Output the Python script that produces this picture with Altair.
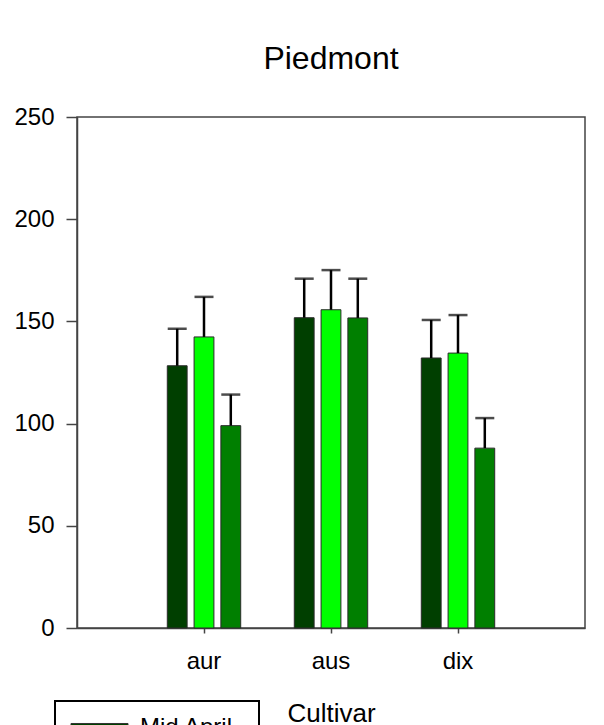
import altair as alt
import pandas as pd

# ---- data ----
cultivars = ["aur", "aus", "dix"]
dates = ["Mid April", "Early May", "Mid May"]
mean_mid_april = [128.3, 151.8, 132.1]
mean_early_may = [142.4, 155.7, 134.5]
mean_mid_may = [99.0, 151.7, 88.0]
se_mid_april = [18.1, 19.1, 18.6]
se_early_may = [19.6, 19.4, 18.6]
se_mid_may = [15.2, 19.2, 14.7]
y_ticks = [0, 50, 100, 150, 200, 250]
colors = ["#003f00", "#00ff00", "#007f00"]

rows = []
for d, means, ses in zip(dates,
                         [mean_mid_april, mean_early_may, mean_mid_may],
                         [se_mid_april, se_early_may, se_mid_may]):
    for c, m, s in zip(cultivars, means, ses):
        rows.append({"Cultivar": c, "Date": d, "mean": m, "upper": m + s})
df = pd.DataFrame(rows)

FONT = "Liberation Sans"

x_enc = alt.X(
    "Cultivar:N",
    sort=cultivars,
    scale=alt.Scale(paddingInner=0, paddingOuter=0.5),
    axis=alt.Axis(
        title="Cultivar",
        labelAngle=0,
        labelFontSize=24,
        labelFont=FONT,
        labelColor="black",
        labelPadding=16,
        tickSize=5,
        titleFontSize=26,
        titleFont=FONT,
        titleFontWeight="normal",
        titleColor="black",
        titleY=72,
        titleBaseline="top",
    ),
)
xoff_enc = alt.XOffset(
    "Date:N", sort=dates, scale=alt.Scale(paddingInner=0.26, paddingOuter=1)
)
y_scale = alt.Scale(domain=[0, 250], nice=False)
y_axis = alt.Axis(
    title=None,
    values=y_ticks,
    grid=False,
    tickSize=11,
    labelPadding=12,
    labelFontSize=24,
    labelFont=FONT,
    labelColor="black",
)

bars = alt.Chart(df).mark_bar(stroke="#2a2a2a", strokeWidth=1).encode(
    x=x_enc,
    xOffset=xoff_enc,
    y=alt.Y("mean:Q", scale=y_scale, axis=y_axis),
    color=alt.Color(
        "Date:N",
        sort=dates,
        scale=alt.Scale(domain=dates, range=colors),
        legend=alt.Legend(
            orient="none",
            legendX=-22,
            legendY=584,
            title=None,
            padding=12,
            strokeColor="black",
            fillColor="white",
            symbolType="M-2.036,-0.286H2.036V0.857H-2.036Z",
            symbolSize=784,
            symbolStrokeColor="#333333",
            symbolStrokeWidth=1,
            symbolOpacity=1,
            symbolOffset=18,
            labelOffset=26,
            labelFontSize=24,
            labelFont=FONT,
            labelColor="black",
            direction="vertical",
        ),
    ),
)

stems = alt.Chart(df).mark_rule(color="black", strokeWidth=2.5).encode(
    x=x_enc,
    xOffset=xoff_enc,
    y=alt.Y("mean:Q", scale=y_scale, axis=y_axis),
    y2="upper:Q",
)

caps = alt.Chart(df).mark_tick(color="black", thickness=2.5, size=19).encode(
    x=x_enc,
    xOffset=xoff_enc,
    y=alt.Y("upper:Q", scale=y_scale, axis=y_axis),
)

chart = (
    alt.layer(bars, stems, caps)
    .properties(
        width=508,
        height=511,
        title=alt.TitleParams(
            "Piedmont",
            fontSize=32,
            font=FONT,
            fontWeight="normal",
            color="black",
            offset=29,
            anchor="middle",
        ),
        padding={"left": 5, "top": 35, "right": 5, "bottom": 5},
    )
    .configure_view(stroke="#444444", strokeWidth=1.5)
    .configure_axis(
        domainColor="#444444",
        domainWidth=1.5,
        tickColor="#444444",
        tickWidth=1.5,
    )
    .configure_legend(strokeWidth=2)
)

chart.save("out.html", embed_options={"renderer": "svg", "actions": False})
